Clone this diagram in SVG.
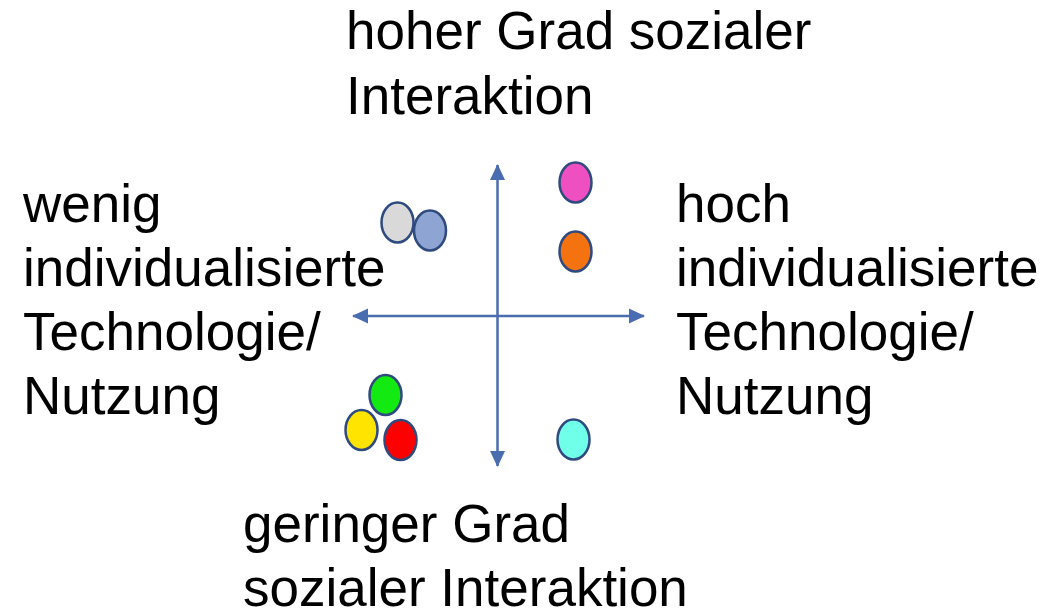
<svg xmlns="http://www.w3.org/2000/svg" width="1056" height="613" viewBox="0 0 1056 613">
  <style>
    .lbl { font-family: "Liberation Sans", Arial, sans-serif; font-size: 53px; fill: #000; }
    .axis { stroke: #4A6CB0; stroke-width: 2.5; fill: none; }
    .dot { stroke: #2F4A7F; stroke-width: 2.5; }
  </style>
  <defs>
    <marker id="arrow" viewBox="0 0 16 16" refX="15" refY="8" markerWidth="16" markerHeight="16" markerUnits="userSpaceOnUse" orient="auto-start-reverse">
      <path d="M0,0.5 L16,8 L0,15.5 Z" fill="#4A6CB0"/>
    </marker>
  </defs>
  <rect width="1056" height="613" fill="#fff"/>

  <!-- axes -->
  <g id="connectors">
    <line class="axis" x1="497.5" y1="466" x2="497.5" y2="165" marker-start="url(#arrow)" marker-end="url(#arrow)"/>
    <line class="axis" x1="353" y1="316" x2="644" y2="316" marker-start="url(#arrow)" marker-end="url(#arrow)"/>
  </g>

  <!-- axis labels -->
  <g id="label-top">
    <text class="lbl" x="346" y="49">hoher Grad sozialer</text>
    <text class="lbl" x="346" y="114">Interaktion</text>
  </g>
  <g id="label-left">
    <text class="lbl" x="23" y="222">wenig</text>
    <text class="lbl" x="23" y="286">individualisierte</text>
    <text class="lbl" x="23" y="350">Technologie/</text>
    <text class="lbl" x="23" y="414">Nutzung</text>
  </g>
  <g id="label-right">
    <text class="lbl" x="676" y="222">hoch</text>
    <text class="lbl" x="676" y="286">individualisierte</text>
    <text class="lbl" x="676" y="350">Technologie/</text>
    <text class="lbl" x="676" y="414">Nutzung</text>
  </g>
  <g id="label-bottom">
    <text class="lbl" x="243" y="542">geringer Grad</text>
    <text class="lbl" x="243" y="606">sozialer Interaktion</text>
  </g>

  <!-- data points -->
  <g id="dot-gray"><ellipse class="dot" cx="397.5" cy="222.5" rx="16" ry="20" fill="#D9D9D9"/></g>
  <g id="dot-bluegray"><ellipse class="dot" cx="430" cy="230.5" rx="16" ry="20" fill="#8EA4D2"/></g>
  <g id="dot-pink"><ellipse class="dot" cx="575.5" cy="182.5" rx="16" ry="20" fill="#EE4FC1"/></g>
  <g id="dot-orange"><ellipse class="dot" cx="575.5" cy="251.5" rx="16" ry="20" fill="#F4720F"/></g>
  <g id="dot-green"><ellipse class="dot" cx="385.5" cy="395" rx="16" ry="20" fill="#12EA12"/></g>
  <g id="dot-yellow"><ellipse class="dot" cx="361.5" cy="430" rx="16" ry="20" fill="#FFE400"/></g>
  <g id="dot-red"><ellipse class="dot" cx="400.5" cy="440" rx="16" ry="20" fill="#FF0000"/></g>
  <g id="dot-cyan"><ellipse class="dot" cx="573.5" cy="439.5" rx="16" ry="20" fill="#70FFE8"/></g>
</svg>
